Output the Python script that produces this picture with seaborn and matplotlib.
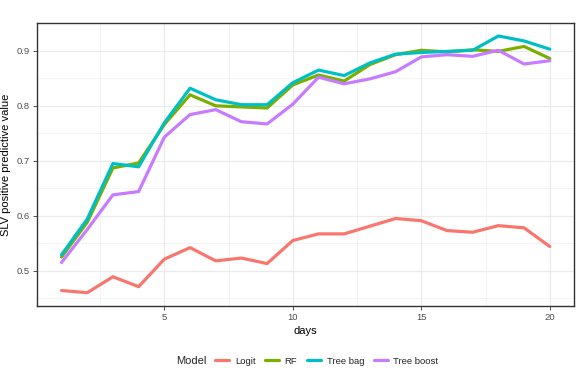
import matplotlib
matplotlib.use("Agg")
import matplotlib.pyplot as plt
from matplotlib.ticker import MultipleLocator
from matplotlib.lines import Line2D
from matplotlib.offsetbox import HPacker
import seaborn as sns
import pandas as pd

days = list(range(1, 21))
logit = [0.464, 0.460, 0.489, 0.471, 0.521, 0.542, 0.518, 0.523, 0.513, 0.555,
         0.567, 0.567, 0.581, 0.595, 0.591, 0.573, 0.570, 0.582, 0.578, 0.544]
rf = [0.525, 0.588, 0.687, 0.696, 0.766, 0.820, 0.800, 0.798, 0.796, 0.838,
      0.856, 0.845, 0.875, 0.893, 0.901, 0.898, 0.902, 0.899, 0.908, 0.886]
tree_bag = [0.529, 0.594, 0.695, 0.689, 0.769, 0.832, 0.811, 0.802, 0.802, 0.842,
            0.865, 0.855, 0.878, 0.894, 0.897, 0.899, 0.901, 0.927, 0.918, 0.903]
tree_boost = [0.515, 0.575, 0.638, 0.644, 0.743, 0.784, 0.793, 0.771, 0.767, 0.803,
              0.852, 0.840, 0.849, 0.862, 0.889, 0.893, 0.890, 0.901, 0.876, 0.882]
models = ["Logit", "RF", "Tree bag", "Tree boost"]
colors = ["#F8766D", "#7CAE00", "#00BFC4", "#C77CFF"]

df = pd.DataFrame({
    "days": days * 4,
    "ppv": logit + rf + tree_bag + tree_boost,
    "Model": [m for m in models for _ in days],
})

sns.set_theme(style="white")
plt.rcParams["font.family"] = ["Liberation Sans", "DejaVu Sans"]

fig = plt.figure(figsize=(5.8, 3.8), dpi=100)
ax = fig.add_axes([0.064, 0.195, 0.926, 0.745])

# grid under the lines
ax.set_axisbelow(True)
ax.xaxis.set_major_locator(MultipleLocator(5))
ax.xaxis.set_minor_locator(MultipleLocator(2.5))
ax.yaxis.set_major_locator(MultipleLocator(0.1))
ax.yaxis.set_minor_locator(MultipleLocator(0.05))
ax.grid(which="major", color="#EBEBEB", lw=0.9)
ax.grid(which="minor", color="#F2F2F2", lw=0.6)

sns.lineplot(data=df, x="days", y="ppv", hue="Model", palette=colors,
             linewidth=2.3, ax=ax, legend=False)

ax.set_xlim(0.05, 20.95)
ax.set_ylim(0.436, 0.951)
ax.set_yticklabels([f"{t:.1f}" for t in ax.get_yticks()])
ax.set_xlabel("days", fontsize=8, color="black", labelpad=3)
ax.set_ylabel("SLV positive predictive value", fontsize=8, color="black", labelpad=4)
ax.tick_params(which="major", length=3, width=0.6, color="#333333",
               labelsize=6.8, labelcolor="#4D4D4D", pad=2,
               bottom=True, left=True)
ax.tick_params(which="minor", length=0)
for s in ax.spines.values():
    s.set_color("#333333")
    s.set_linewidth(1.0)

handles = [Line2D([], [], color=c, lw=2.3) for c in colors]
leg = fig.legend(handles, models, title="Model", loc="center",
                 bbox_to_anchor=(0.53, 0.05), ncol=4, frameon=False,
                 fontsize=6.8, title_fontsize=8, handlelength=1.5,
                 columnspacing=1.0, handletextpad=0.6)
# title to the left of the entries, as in ggplot
vp = leg._legend_box
vp._children = [HPacker(children=vp.get_children(), align="center", pad=0, sep=6)]
vp.__class__ = HPacker
vp.align = "center"
vp.sep = 6

fig.savefig("out.png", dpi=100)
